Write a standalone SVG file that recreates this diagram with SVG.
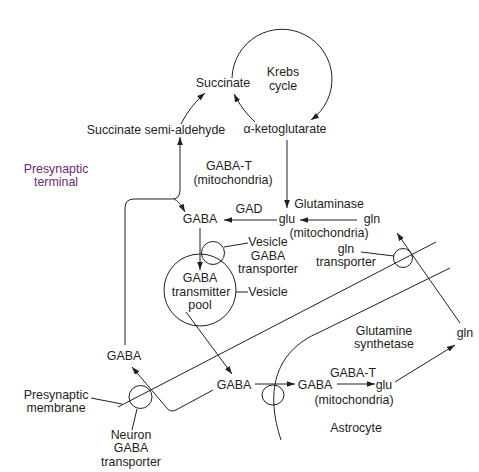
<svg xmlns="http://www.w3.org/2000/svg" width="479" height="472" viewBox="0 0 479 472">
<style>
text{font-family:"Liberation Sans",Arial,sans-serif;font-size:12.4px;fill:#231f20;text-anchor:middle}
.p{fill:#6a2a72}
.c{fill:none;stroke:#231f20;stroke-width:1}
.a{marker-end:url(#ah)}
</style>
<defs>
<marker id="ah" viewBox="0 0 10 10" refX="10" refY="5" markerWidth="8" markerHeight="8" markerUnits="userSpaceOnUse" orient="auto"><path d="M0,1.5 L10,5 L0,8.5z" fill="#231f20"/></marker>
</defs>
<rect width="479" height="472" fill="#fff"/>
<g id="connectors">
<path class="c a" d="M232,78 A50,50 0 1 1 311,120"/>
<path class="c a" d="M181,124 Q190,106 205,93"/>
<path class="c a" d="M255,122 Q242,110 234,94"/>
<path class="c a" d="M287,140 L287,208"/>
<path class="c a" d="M125,345 L125,208 Q125,199 134,199 L172,199 Q180,199 180,190 L180,137"/>
<path class="c a" d="M174,199 Q179,201 185,212"/>
<path class="c a" d="M200,228 L200,270"/>
<path class="c a" d="M277,220 L224,220"/>
<path class="c a" d="M357,220 L300,220"/>
<path class="c" d="M224,247 L248,243"/>
<path class="c" d="M236,292 L248,292"/>
<path class="c a" d="M186,312 L232,374"/>
<path class="c" d="M118,407 L436,242"/>
<path class="c" d="M281,440 C266,395 272,352 320,332 L450,268"/>
<path class="c a" d="M213,390 L176,410 Q170,413 166,407 L132,367"/>
<path class="c" d="M91,398 L122,404"/>
<path class="c" d="M137,409 L132,430"/>
<path class="c a" d="M255,384 L295,384"/>
<path class="c a" d="M337,384 L375,384"/>
<path class="c a" d="M395,382 L455,345"/>
<path class="c a" d="M460,323 L397,233"/>
<path class="c" d="M361,252 L394,256"/>
</g>
<g id="krebs"><text x="283" y="76">Krebs</text><text x="283" y="90">cycle</text></g>
<g id="succinate"><text x="223" y="87">Succinate</text></g>
<g id="ssa"><text x="156" y="134">Succinate semi-aldehyde</text></g>
<g id="akg"><text x="285" y="133">α-ketoglutarate</text></g>
<g id="presyn-terminal"><text class="p" x="56" y="172.5">Presynaptic</text><text class="p" x="56" y="186">terminal</text></g>
<g id="gabat1"><text x="229" y="170">GABA-T</text><text x="233" y="184">(mitochondria)</text></g>
<g id="gaba-top"><text x="200" y="223">GABA</text></g>
<g id="gad"><text x="249" y="213">GAD</text></g>
<g id="glu-top"><text x="287" y="223">glu</text><text x="329" y="237">(mitochondria)</text></g>
<g id="glutaminase"><text x="329" y="208">Glutaminase</text></g>
<g id="gln-top"><text x="372" y="223">gln</text></g>
<g id="vesicle-transporter"><circle class="c" cx="213" cy="253" r="11.5"/><text x="268" y="246">Vesicle</text><text x="268" y="259.5">GABA</text><text x="268" y="273">transporter</text></g>
<g id="pool"><circle class="c" cx="200" cy="290" r="36"/><text x="200" y="282">GABA</text><text x="201" y="295.5">transmitter</text><text x="200" y="309">pool</text></g>
<g id="vesicle"><text x="268" y="296">Vesicle</text></g>
<g id="gln-transporter"><circle class="c" cx="403" cy="258" r="9.5"/><text x="346" y="252.5">gln</text><text x="346" y="266">transporter</text></g>
<g id="glutamine-synthetase"><text x="384" y="334.5">Glutamine</text><text x="384" y="348">synthetase</text></g>
<g id="gln-right"><text x="465" y="337">gln</text></g>
<g id="gaba-left"><text x="124" y="360">GABA</text></g>
<g id="presyn-membrane"><text x="56" y="398.5">Presynaptic</text><text x="56" y="412">membrane</text></g>
<g id="neuron-transporter"><circle class="c" cx="140.5" cy="397" r="11.5"/><text x="131" y="438.5">Neuron</text><text x="131" y="452">GABA</text><text x="131" y="465.5">transporter</text></g>
<g id="gaba-cleft"><text x="234" y="389">GABA</text></g>
<g id="astro-transporter"><ellipse class="c" cx="273" cy="395" rx="11" ry="10"/></g>
<g id="gaba-astro"><text x="315" y="389">GABA</text></g>
<g id="gabat2"><text x="353" y="377">GABA-T</text></g>
<g id="glu-astro"><text x="384" y="389">glu</text><text x="354" y="404">(mitochondria)</text></g>
<g id="astrocyte"><text x="356" y="432">Astrocyte</text></g>
</svg>
